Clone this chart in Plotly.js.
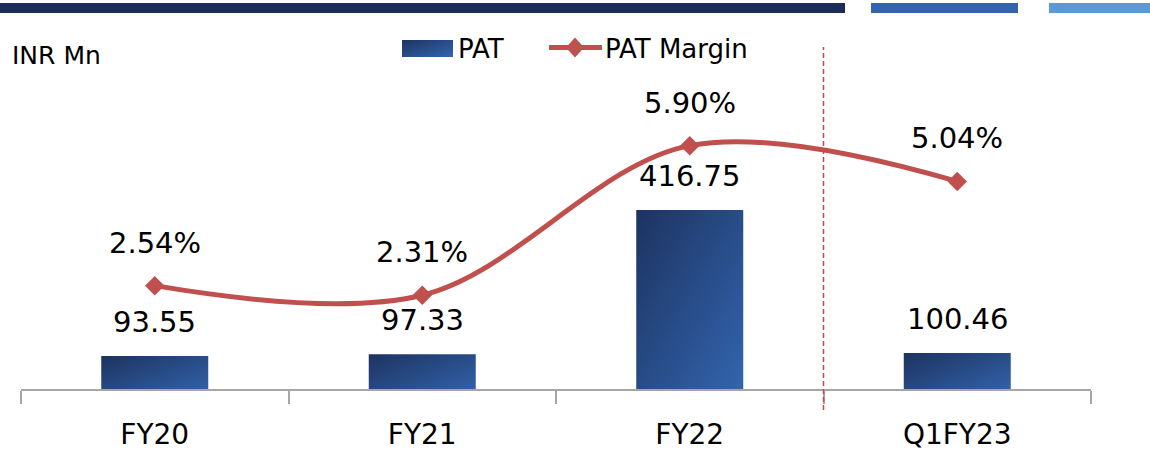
<!DOCTYPE html>
<html>
<head>
<meta charset="utf-8">
<script src="https://cdn.plot.ly/plotly-3.0.1.min.js"></script>
<style>html,body{margin:0;padding:0;background:#fff;}#chart{width:1150px;height:454px;}</style>
</head>
<body>
<div id="chart"></div>
<script>
const categories = ['FY20', 'FY21', 'FY22', 'Q1FY23'];
const patValues = [93.55, 97.33, 416.75, 100.46];
const patLabels = ['93.55', '97.33', '416.75', '100.46'];
const marginValues = [2.54, 2.31, 5.90, 5.04];
const marginLabels = ['2.54%', '2.31%', '5.90%', '5.04%'];
const unitLabel = 'INR Mn';
const legendNames = ['PAT', 'PAT Margin'];

const FONT = 'DejaVu Sans';
const RED = '#c0504d';

// plot area in pixels
const L = 21, R = 1091, T = 45, B = 389;
const px = v => (v - L) / (R - L);
const py = v => (B - v) / (B - T);

const traces = [
  {
    type: 'bar', x: categories, y: patValues, name: legendNames[0],
    width: 0.4, marker: {color: '#2a4d8f'}, showlegend: false, hoverinfo: 'skip'
  },
  {
    type: 'scatter', mode: 'lines+markers', x: categories, y: marginValues, yaxis: 'y2',
    name: legendNames[1], line: {color: RED, width: 5, shape: 'spline', smoothing: 1},
    marker: {symbol: 'diamond', size: 15, color: RED}, showlegend: false, hoverinfo: 'skip'
  }
];

const annotations = [];
categories.forEach((c, i) => {
  annotations.push({x: c, y: patValues[i], xref: 'x', yref: 'y', text: patLabels[i],
    showarrow: false, yanchor: 'middle', yshift: 34, font: {family: FONT, size: 29, color: '#000'}});
  annotations.push({x: c, y: marginValues[i], xref: 'x', yref: 'y2', text: marginLabels[i],
    showarrow: false, yanchor: 'middle', yshift: 43, font: {family: FONT, size: 29, color: '#000'}});
});
annotations.push({xref: 'paper', yref: 'paper', x: px(10), y: py(55.5), xanchor: 'left', yanchor: 'middle',
  text: unitLabel, showarrow: false, font: {family: FONT, size: 25, color: '#000'}});
annotations.push({xref: 'paper', yref: 'paper', x: px(456), y: py(48.5), xanchor: 'left', yanchor: 'middle',
  text: legendNames[0], showarrow: false, font: {family: FONT, size: 26, color: '#000'}});
annotations.push({xref: 'paper', yref: 'paper', x: px(603), y: py(48.5), xanchor: 'left', yanchor: 'middle',
  text: legendNames[1], showarrow: false, font: {family: FONT, size: 26, color: '#000'}});

const dcx = 575, dcy = 47.5, dhw = 9, dhh = 10;
const shapes = [
  // top decorative bars
  {type: 'rect', xref: 'paper', yref: 'paper', x0: px(0), x1: px(845), y0: py(3), y1: py(13), fillcolor: '#1c2d5a', line: {width: 0}},
  {type: 'rect', xref: 'paper', yref: 'paper', x0: px(871), x1: px(1018), y0: py(3), y1: py(13), fillcolor: '#3464b0', line: {width: 0}},
  {type: 'rect', xref: 'paper', yref: 'paper', x0: px(1049), x1: px(1150), y0: py(3), y1: py(13), fillcolor: '#5b9bd5', line: {width: 0}},
  // divider
  {type: 'line', xref: 'x', yref: 'paper', x0: 2.5, x1: 2.5, y0: py(410), y1: py(47), line: {color: '#d0454a', width: 1.5, dash: '5px,3px'}},
  // legend swatches
  {type: 'rect', xref: 'paper', yref: 'paper', x0: px(402), x1: px(453), y0: py(40), y1: py(57), fillcolor: '#2a4d8f', line: {width: 0}},
  {type: 'line', xref: 'paper', yref: 'paper', x0: px(549), x1: px(602), y0: py(dcy), y1: py(dcy), line: {color: RED, width: 5}},
  {type: 'path', xref: 'paper', yref: 'paper', fillcolor: RED, line: {width: 0},
   path: `M${px(dcx - dhw)},${py(dcy)} L${px(dcx)},${py(dcy - dhh)} L${px(dcx + dhw)},${py(dcy)} L${px(dcx)},${py(dcy + dhh)} Z`}
];
const legendSwatchIndex = 4;

const layout = {
  width: 1150, height: 454,
  margin: {l: L, r: 1150 - R, t: T, b: 454 - B, pad: 0},
  paper_bgcolor: '#fff', plot_bgcolor: '#fff',
  font: {family: FONT, color: '#000'},
  showlegend: false,
  xaxis: {
    type: 'category', range: [-0.5, 3.5], showgrid: false, zeroline: false,
    showline: true, linecolor: '#a6a6a6', linewidth: 2,
    ticks: 'outside', tickson: 'boundaries', ticklen: 13, tickwidth: 2, tickcolor: '#a6a6a6',
    tickfont: {family: FONT, size: 28, color: '#000'}, ticklabelstandoff: 19, fixedrange: true
  },
  yaxis: {range: [20.5, 782], visible: false, fixedrange: true},
  yaxis2: {range: [0.06, 8.315], overlaying: 'y', side: 'right', visible: false, fixedrange: true},
  annotations: annotations,
  shapes: shapes
};

Plotly.newPlot('chart', traces, layout, {staticPlot: true}).then(gd => {
  const svg = gd.querySelector('.main-svg');
  const NS = 'http://www.w3.org/2000/svg';
  let defs = svg.querySelector('defs');
  if (!defs) { defs = document.createElementNS(NS, 'defs'); svg.insertBefore(defs, svg.firstChild); }
  const grad = document.createElementNS(NS, 'linearGradient');
  grad.setAttribute('id', 'patGrad');
  grad.setAttribute('x1', '0'); grad.setAttribute('y1', '0');
  grad.setAttribute('x2', '1'); grad.setAttribute('y2', '1');
  [['0%', '#1d3360'], ['100%', '#3366b0']].forEach(([o, c]) => {
    const s = document.createElementNS(NS, 'stop');
    s.setAttribute('offset', o); s.setAttribute('stop-color', c);
    grad.appendChild(s);
  });
  defs.appendChild(grad);
  gd.querySelectorAll('.barlayer .point path').forEach(p => { p.style.fill = 'url(#patGrad)'; });
  gd.querySelectorAll('.shapelayer path[data-index="' + legendSwatchIndex + '"]').forEach(p => { p.style.fill = 'url(#patGrad)'; });
});
</script>
</body>
</html>
